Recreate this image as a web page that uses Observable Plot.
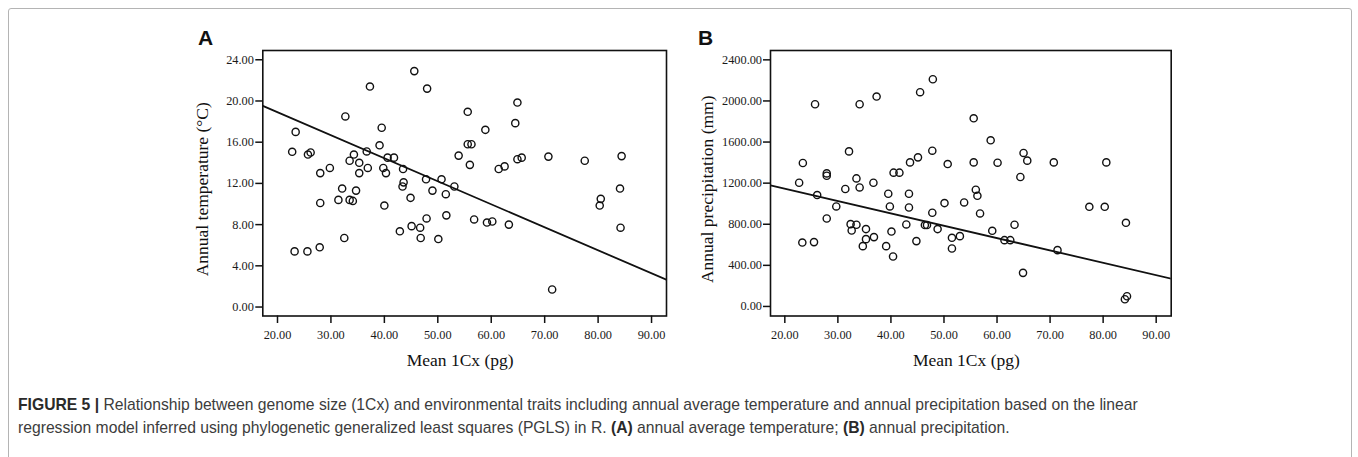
<!DOCTYPE html>
<html><head><meta charset="utf-8">
<script src="https://cdn.jsdelivr.net/npm/d3@7"></script>
<script src="https://cdn.jsdelivr.net/npm/@observablehq/plot@0.6"></script>
<style>
html,body{margin:0;padding:0;background:#fff;}
#fig{position:relative;width:1358px;height:457px;overflow:hidden;background:#fff;}
#box{position:absolute;left:8px;top:8px;width:1342px;height:470px;border:1px solid #b4b4b4;border-radius:3px;}
.panel{position:absolute;top:0;}
.letter{position:absolute;font-family:"Liberation Sans",Arial,sans-serif;font-weight:bold;font-size:21px;line-height:1;color:#111;}
#caption{position:absolute;left:18px;top:393px;font-family:"Liberation Sans",Arial,sans-serif;font-size:15.7px;line-height:23px;color:#3c3c3c;white-space:nowrap;}
#caption b{color:#2a2a2a;}
</style></head>
<body><div id="fig"><div id="box"></div>
<div id="pA" class="panel" style="left:0"></div>
<div id="pB" class="panel" style="left:680px"></div>
<div class="letter" style="left:198px;top:27px">A</div>
<div class="letter" style="left:698px;top:27px">B</div>
<div id="caption"><b>FIGURE 5 |</b> Relationship between genome size (1Cx) and environmental traits including annual average temperature and annual precipitation based on the linear<br>regression model inferred using phylogenetic generalized least squares (PGLS) in R. <b>(A)</b> annual average temperature; <b>(B)</b> annual precipitation.</div>
</div>
<script>
// Panel A: genome size (pg) vs annual temperature (°C)
const tempX = [22.75,23.4,25.7,26.2,28.0,29.8,32.7,32.1,33.5,34.3,35.3,35.3,34.7,36.7,36.9,37.3,39.1,39.5,39.8,40.3,40.6,41.8,43.5,43.6,43.4,45.6,48.0,55.6,64.9,64.5,58.9,55.6,56.3,53.9,56.0,61.4,62.5,64.9,65.7,70.7,77.5,84.4,84.1,47.8,50.7,53.1,49.0,40.0,44.9,51.5,47.9,51.6,42.9,45.1,46.7,46.8,50.1,56.8,59.2,60.2,63.3,71.4,80.5,80.3,84.2,28.0,31.4,33.5,34.1,32.5,27.9,23.2,25.6];
const tempY = [15.07,17.0,14.8,15.0,13.0,13.5,18.5,11.5,14.2,14.8,14.0,13.0,11.3,15.1,13.5,21.4,15.7,17.4,13.5,13.0,14.5,14.5,13.4,12.1,11.7,22.9,21.2,18.95,19.85,17.85,17.2,15.8,15.8,14.7,13.8,13.4,13.65,14.35,14.5,14.6,14.2,14.65,11.5,12.4,12.4,11.7,11.3,9.85,10.6,10.95,8.6,8.9,7.35,7.85,7.7,6.7,6.6,8.5,8.2,8.3,8.0,1.7,10.5,9.85,7.7,10.1,10.4,10.4,10.3,6.7,5.8,5.4,5.4];
// Panel B: genome size (pg) vs annual precipitation (mm)
const precX = [22.7,23.4,25.7,27.9,27.9,32.1,31.4,34.1,33.5,34.1,36.7,37.3,40.5,41.6,43.6,45.1,45.5,47.9,47.8,50.7,55.6,58.8,55.6,60.1,65.0,65.7,70.7,80.6,64.4,56.0,56.3,26.1,29.7,39.5,39.8,43.4,43.4,27.9,32.4,33.5,32.6,35.3,35.3,36.8,34.7,39.1,40.1,40.4,42.9,44.8,46.4,46.8,47.8,48.8,50.1,51.5,51.5,53.0,23.3,25.5,53.8,56.8,59.1,61.4,62.5,63.3,64.9,71.4,77.4,80.3,84.3,84.5,84.1];
const precY = [1204,1396,1968,1295,1272,1509,1143,1968,1246,1158,1204,2043,1302,1302,1402,1451,2085,2211,1516,1386,1831,1617,1402,1399,1494,1419,1402,1402,1260,1136,1077,1084,973,1097,973,1097,963,856,801,795,739,753,655,675,587,587,729,486,798,636,792,792,912,753,1006,668,564,684,622,626,1012,905,736,645,645,795,327,548,970,970,814,99,70];
// PGLS fit coefficients [intercept, slope]
const tempFit = [23.37, -0.2233];
const precFit = [1385.8, -12.01];
// ticks
const xTicks = [20,30,40,50,60,70,80,90];
const tempTicks = [0,4,8,12,16,20,24];
const precTicks = [0,400,800,1200,1600,2000,2400];
const xLabel = "Mean 1Cx (pg)";
const tempLabel = "Annual temperature (°C)";
const precLabel = "Annual precipitation (mm)";

function panel(o) {
  const pts = o.xs.map((x, i) => ({x, y: o.ys[i]}));
  const fitLine = o.xDomain.map(x => ({x, y: o.fit[0] + o.fit[1] * x}));
  return Plot.plot({
    width: o.width, height: 375,
    marginLeft: o.marginLeft, marginRight: o.marginRight, marginTop: 50, marginBottom: 59.5,
    style: {fontFamily: '"Liberation Serif", "Times New Roman", serif', fontSize: "12.3px", color: "#1a1a1a", background: "transparent"},
    x: {domain: o.xDomain},
    y: {domain: o.yDomain},
    marks: [
      Plot.axisY({ticks: o.yTicks, tickFormat: d => d.toFixed(2), tickSize: 7, tickPadding: o.yPad, label: null, strokeWidth: 1.5, stroke: "#111", fill: "#1a1a1a", fontSize: 12.3}),
      Plot.axisX({ticks: xTicks, tickFormat: d => d.toFixed(2), tickSize: 7.5, tickPadding: 6.5, label: null, strokeWidth: 1.5, stroke: "#111", fill: "#1a1a1a", fontSize: 12.3}),
      Plot.frame({stroke: "#111", strokeWidth: 1.6}),
      Plot.line(fitLine, {x: "x", y: "y", stroke: "#111", strokeWidth: 1.8, clip: true}),
      Plot.dot(pts, {x: "x", y: "y", r: 3.6, stroke: "#111", strokeWidth: 1.4, fill: "none"}),
      Plot.text([o.yLabel], {frameAnchor: "left", dx: o.yLabDx, dy: 6, rotate: -90, fontSize: 17.5, fill: "#111", textAnchor: "middle", lineAnchor: "middle"}),
      Plot.text([xLabel], {frameAnchor: "bottom", dx: -4.5, dy: 44.5, fontSize: 17.5, fill: "#111", textAnchor: "middle", lineAnchor: "middle"})
    ]
  });
}

document.getElementById("pA").appendChild(panel({
  xs: tempX, ys: tempY, fit: tempFit,
  xDomain: [17.25, 92.8], yDomain: [-0.87, 24.9], yTicks: tempTicks,
  yLabel: tempLabel, width: 680, marginLeft: 262.3, marginRight: 14, yLabDx: -60.6, yPad: 2
}));
document.getElementById("pB").appendChild(panel({
  xs: precX, ys: precY, fit: precFit,
  xDomain: [17.3, 92.83], yDomain: [-93, 2491], yTicks: precTicks,
  yLabel: precLabel, width: 678, marginLeft: 90, marginRight: 187.3, yLabDx: -63.3, yPad: 1.5
}));
</script>
</body></html>
